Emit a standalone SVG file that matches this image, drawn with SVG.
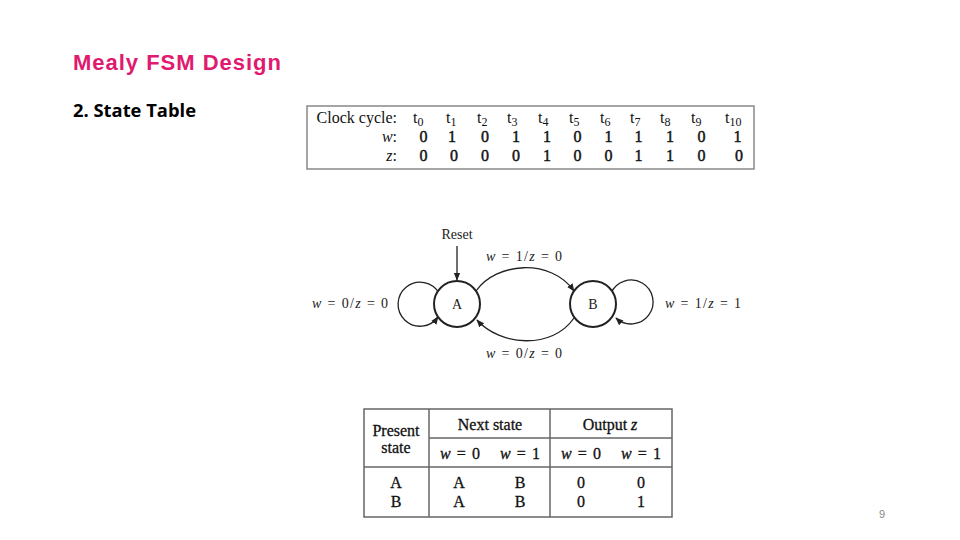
<svg xmlns="http://www.w3.org/2000/svg" width="960" height="540" viewBox="0 0 960 540">
<style>
.title{font-family:"Liberation Sans",Arial,sans-serif;font-size:22px;font-weight:bold;fill:#DF1A6F}
.sub{font-family:"Open Sans","Liberation Sans",sans-serif;font-size:17.5px;font-weight:bold;fill:#000}
.ser{font-family:"Liberation Serif","Times New Roman",serif;font-size:16px;fill:#111}
.heavy{stroke:#111;stroke-width:0.45}
.ser14{font-family:"Liberation Serif","Times New Roman",serif;font-size:14px;fill:#222}
.tab{font-family:"Liberation Serif","Times New Roman",serif;font-size:16px;fill:#111;stroke:#111;stroke-width:0.3}
.it{font-style:italic}
.mid{text-anchor:middle}
.end{text-anchor:end}
.box{fill:none;stroke:#888;stroke-width:1.5}
.grid{fill:none;stroke:#666;stroke-width:1.5}
.state{fill:#fff;stroke:#222;stroke-width:2}
.edge{fill:none;stroke:#222;stroke-width:1.3}
.pg{font-family:"Liberation Sans",Arial,sans-serif;font-size:11px;fill:#888}
</style>
<defs>
<marker id="arr" viewBox="0 0 10 10" refX="9" refY="5" markerWidth="8" markerHeight="8" markerUnits="userSpaceOnUse" orient="auto">
<path d="M0,1 L10,5 L0,9 Z" fill="#222"/>
</marker>
</defs>
<rect width="960" height="540" fill="#fff"/>
<text class="title" x="73" y="70" textLength="208" lengthAdjust="spacing">Mealy FSM Design</text>
<text class="sub" x="73" y="117" textLength="123" lengthAdjust="spacingAndGlyphs">2. State Table</text>

<g id="timing-table">
<rect class="box" x="307" y="106" width="447" height="63"/>
<text class="ser end" x="397" y="123">Clock cycle:</text>
<text class="ser end" x="397" y="141.5"><tspan class="it">w</tspan>:</text>
<text class="ser end" x="397" y="161"><tspan class="it">z</tspan>:</text>
<g class="ser">
<text x="413" y="123">t<tspan font-size="12" dy="3">0</tspan></text>
<text x="446" y="123">t<tspan font-size="12" dy="3">1</tspan></text>
<text x="477" y="123">t<tspan font-size="12" dy="3">2</tspan></text>
<text x="507" y="123">t<tspan font-size="12" dy="3">3</tspan></text>
<text x="538" y="123">t<tspan font-size="12" dy="3">4</tspan></text>
<text x="569" y="123">t<tspan font-size="12" dy="3">5</tspan></text>
<text x="600" y="123">t<tspan font-size="12" dy="3">6</tspan></text>
<text x="630" y="123">t<tspan font-size="12" dy="3">7</tspan></text>
<text x="660" y="123">t<tspan font-size="12" dy="3">8</tspan></text>
<text x="691" y="123">t<tspan font-size="12" dy="3">9</tspan></text>
<text x="725" y="123">t<tspan font-size="12" dy="3">10</tspan></text>
</g>
<g class="ser mid heavy">
<text x="423.5" y="141.5">0</text><text x="452" y="141.5">1</text><text x="485" y="141.5">0</text><text x="516" y="141.5">1</text><text x="547" y="141.5">1</text><text x="577.5" y="141.5">0</text><text x="608.5" y="141.5">1</text><text x="638.5" y="141.5">1</text><text x="670" y="141.5">1</text><text x="701.5" y="141.5">0</text><text x="737.5" y="141.5">1</text>
<text x="423.5" y="161">0</text><text x="454" y="161">0</text><text x="485" y="161">0</text><text x="516" y="161">0</text><text x="547" y="161">1</text><text x="577.5" y="161">0</text><text x="608.5" y="161">0</text><text x="638.5" y="161">1</text><text x="670" y="161">1</text><text x="701.5" y="161">0</text><text x="739" y="161">0</text>
</g>
</g>

<g id="connectors">
<path class="edge" d="M457,246 L457,280" marker-end="url(#arr)"/>
<path class="edge" d="M439,293 A22,22 0 1 0 438,317" marker-end="url(#arr)"/>
<path class="edge" d="M611,293 A22,22 0 1 1 616,318" marker-end="url(#arr)"/>
<path class="edge" d="M476,291 C496,262 551,258 574,291" marker-end="url(#arr)"/>
<path class="edge" d="M574,318 C552,350 500,346 477,320" marker-end="url(#arr)"/>
</g>
<g id="reset-label"><text class="ser14 mid" x="457" y="239">Reset</text></g>
<g id="label-top"><text class="ser14" x="486" y="261" textLength="76" lengthAdjust="spacing"><tspan class="it">w</tspan> = 1/<tspan class="it">z</tspan> = 0</text></g>
<g id="label-bottom"><text class="ser14" x="486" y="358" textLength="76" lengthAdjust="spacing"><tspan class="it">w</tspan> = 0/<tspan class="it">z</tspan> = 0</text></g>
<g id="label-left"><text class="ser14" x="312" y="308" textLength="76" lengthAdjust="spacing"><tspan class="it">w</tspan> = 0/<tspan class="it">z</tspan> = 0</text></g>
<g id="label-right"><text class="ser14" x="665" y="308" textLength="76" lengthAdjust="spacing"><tspan class="it">w</tspan> = 1/<tspan class="it">z</tspan> = 1</text></g>
<g id="state-A">
<circle class="state" cx="457" cy="304" r="23"/>
<text class="ser14 mid" x="457" y="309">A</text>
</g>
<g id="state-B">
<circle class="state" cx="593" cy="304" r="23"/>
<text class="ser14 mid" x="593" y="309">B</text>
</g>

<g id="state-table">
<rect class="grid" x="364" y="409" width="308" height="108"/>
<line class="grid" x1="429" y1="409" x2="429" y2="517"/>
<line class="grid" x1="550" y1="409" x2="550" y2="517"/>
<line class="grid" x1="429" y1="438" x2="672" y2="438"/>
<line class="grid" x1="364" y1="467" x2="672" y2="467"/>
<text class="tab mid" x="396" y="436">Present</text>
<text class="tab mid" x="396" y="453">state</text>
<text class="tab mid" x="490" y="430">Next state</text>
<text class="tab mid" x="610" y="430">Output <tspan class="it">z</tspan></text>
<text class="tab" x="440" y="459" textLength="40" lengthAdjust="spacing"><tspan class="it">w</tspan> = 0</text>
<text class="tab" x="500" y="459" textLength="40" lengthAdjust="spacing"><tspan class="it">w</tspan> = 1</text>
<text class="tab" x="561" y="459" textLength="40" lengthAdjust="spacing"><tspan class="it">w</tspan> = 0</text>
<text class="tab" x="621" y="459" textLength="40" lengthAdjust="spacing"><tspan class="it">w</tspan> = 1</text>
<text class="tab mid" x="396" y="488">A</text>
<text class="tab mid" x="459" y="488">A</text>
<text class="tab mid" x="520" y="488">B</text>
<text class="tab mid" x="581" y="488">0</text>
<text class="tab mid" x="641" y="488">0</text>
<text class="tab mid" x="396" y="507">B</text>
<text class="tab mid" x="459" y="507">A</text>
<text class="tab mid" x="520" y="507">B</text>
<text class="tab mid" x="581" y="507">0</text>
<text class="tab mid" x="641" y="507">1</text>
</g>
<text class="pg mid" x="882" y="518">9</text>
</svg>
